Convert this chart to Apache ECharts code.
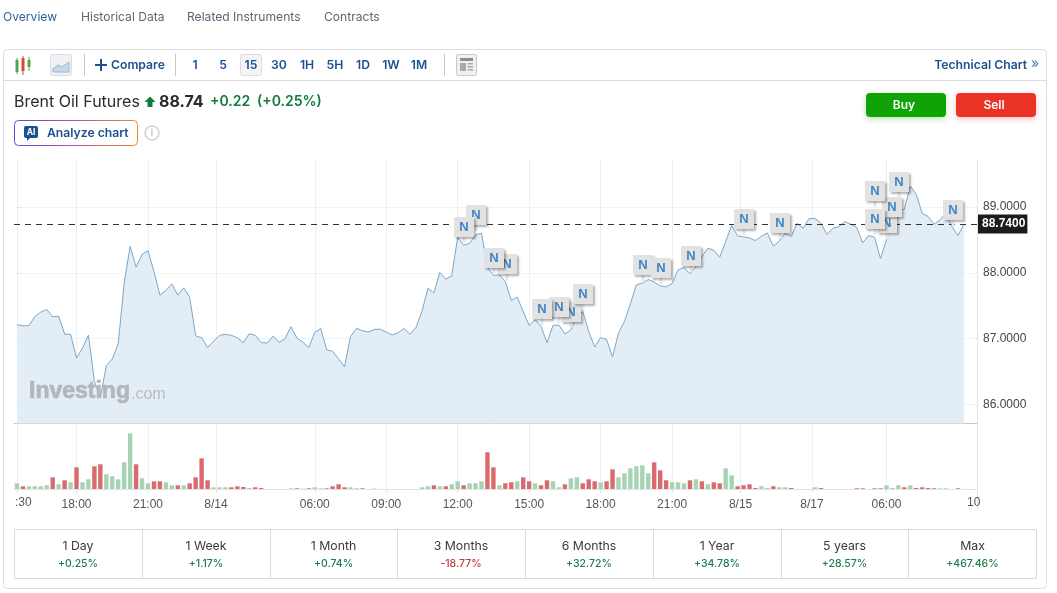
<!DOCTYPE html>
<html>
<head>
<meta charset="utf-8">
<style>html,body{margin:0;padding:0;background:#fff}#c{width:1057px;height:593px}</style>
<script src="https://cdn.jsdelivr.net/npm/echarts@6/dist/echarts.min.js"></script>
</head>
<body>
<div id="c"></div>
<script>
const prices = [87.212,87.197,87.197,87.338,87.404,87.444,87.333,87.343,87.071,87.066,86.707,86.859,87.056,86.354,86.101,86.591,86.692,86.924,87.843,88.404,88.086,88.278,88.338,88.020,87.662,87.732,87.833,87.662,87.773,87.631,87.045,87.015,86.869,86.960,87.051,87.066,87.051,87.015,86.939,87.076,87.051,86.944,86.934,87.040,86.944,87.000,87.182,87.010,86.949,86.864,87.096,87.157,86.833,86.808,86.697,86.571,87.035,87.157,87.121,87.101,87.141,87.146,87.101,87.056,87.091,87.157,87.066,87.172,87.414,87.768,87.692,88.005,87.904,87.955,88.540,88.419,88.449,88.576,88.601,88.086,87.960,87.970,87.869,87.581,87.631,87.414,87.202,87.288,87.187,86.939,87.202,87.207,87.071,87.131,87.338,87.414,87.111,86.874,87.015,86.990,86.722,87.086,87.263,87.530,87.818,87.843,87.899,87.859,87.803,87.788,87.838,88.045,88.081,87.985,88.096,88.247,88.374,88.343,88.237,88.475,88.722,88.561,88.545,88.530,88.490,88.556,88.606,88.404,88.480,88.601,88.551,88.753,88.677,88.823,88.828,88.753,88.581,88.677,88.702,88.778,88.737,88.692,88.455,88.566,88.540,88.217,88.500,88.854,88.955,88.965,89.318,89.192,88.904,88.854,88.737,88.803,88.914,88.702,88.566,88.737];
const volumes = [5.7,2.7,2.7,2.7,2.7,3.7,11.7,4.7,8.7,6.7,21.7,6.7,9.7,22.7,24.7,14.7,12.7,9.7,26.7,55.7,24.7,10.7,5.7,7.7,7.7,6.7,3.7,3.7,3.7,5.7,11.7,30.7,8.7,1.7,1.7,1.7,1.7,2.7,2,1,1.7,1,0,0,0,0,0.7,0.7,0.3,0.7,1.7,0.7,0.7,2.7,4.7,1.7,1.7,0.7,0.7,0,0.5,0,0,0,0,0,0,0,1.7,2.7,3.7,2.7,2.7,4.7,7.7,3.7,5.7,5.7,7.7,36.7,21.7,3.7,5.7,6.7,7.7,11.7,7.7,5.7,3.7,8.7,7.7,1.7,4.7,10.7,11.7,5.7,9.7,7.7,6.7,7.7,19.7,11.7,15.7,20.7,22.7,23.7,15.7,26.7,18.7,8.7,6.7,6.7,5.7,8.7,9.7,7.7,4.7,6.7,5.7,20.7,13.7,2.7,3.7,4.7,1,2.7,1,2.7,1.7,1.7,1,0,0,0,1.7,1,0,0,0,0,0,0.7,0.7,0,0.7,0.7,3.7,1,3.7,1.7,3.7,1,1.7,1,0.7,0.7,0.7,0,0.7,0];
const downBars = [1,6,8,10,13,14,20,23,24,27,29,30,31,32,36,37,38,40,41,47,49,52,53,54,55,58,70,72,75,79,80,82,83,85,86,88,89,92,95,96,97,99,100,107,108,109,113,115,117,118,121,122,123,124,127,130,135,141,142,144,145,149,151,152,153,154,158];
const xTickIndex = [0,10,22,33.4,50,62,74,86,98,110,121.5,133.5,146];
const xTickLabels = ["","18:00","21:00","8/14","06:00","09:00","12:00","15:00","18:00","21:00","8/15","8/17","06:00"];
const priceTicks = [86,87,88,89];
const lastPrice = 88.74;
const flagIndex = [77.1,75.1,82.2,80.1,93.0,95.0,91.0,88.1,105.1,108.1,113.2,122.1,128.1,146.1,147.0,144.1,148.1,144.1,157.2];
const flagPrice = [88.636,88.458,87.892,87.983,87.164,87.442,87.244,87.209,87.877,87.836,88.014,88.575,88.519,88.519,88.757,88.580,89.141,89.005,88.716];
const tabs = ["Overview","Historical Data","Related Instruments","Contracts"];
const intervals = ["1","5","15","30","1H","5H","1D","1W","1M"];
const rangeLabels = ["1 Day","1 Week","1 Month","3 Months","6 Months","1 Year","5 years","Max"];
const rangeChanges = ["+0.25%","+1.17%","+0.74%","-18.77%","+32.72%","+34.78%","+28.57%","+467.46%"];

const UI = "Inter, 'Noto Sans', sans-serif";
const AX = "'Liberation Sans', Arial, sans-serif";
const navy = "#1d5090", GREEN = "#0f7a3c";
const upCol = "#a6d3b4", downCol = "#d96b6e";
const g = [];
const T = (x, y, text, font, fill, align, extra) => g.push({type:'text', z:10, silent:true, style:Object.assign({x, y, text, font, fill, textAlign:align||'left', textVerticalAlign:'middle'}, extra||{})});
const R = (x, y, w, h, fill, stroke, r, extra) => g.push({type:'rect', z:9, silent:true, shape:{x,y,width:w,height:h,r:r||0}, style:Object.assign({fill:fill||'none', stroke:stroke||'none', lineWidth:1}, extra||{})});
const L = (x1, y1, x2, y2, stroke, w) => g.push({type:'line', z:9, silent:true, shape:{x1,y1,x2,y2}, style:{stroke, lineWidth:w||1}});

// tabs
const tabX = [3,81,187,324];
tabs.forEach((t,i)=>T(tabX[i],17,t,"400 12.1px "+UI,i===0?"#2f6299":"#5b6673"));
// panel
R(3.5,49.5,1043,539,'none','#dcdcdc',4,{});
L(4,80.5,1046,80.5,'#dcdcdc');
// candle icon
[[17,'#5aa54b',60,72,58,74],[23,'#d9473f',58,71,56,75],[29,'#5aa54b',60,67,57,71]].forEach(c=>{
  L(c[0],c[4],c[0],c[5],c[1]); R(c[0]-1.5,c[2],3,c[3]-c[2],c[1],null,0);
});
// area icon
R(50.5,54.5,21,21,'#eef2f6','#dcdcdc',2);
g.push({type:'polygon',z:10,silent:true,shape:{points:[[53,72],[53,69],[58,65],[62,67],[69,62],[69,72]]},style:{fill:'#c9d8e8',stroke:'#9db4cc',lineWidth:1}});
L(84.5,54,84.5,76,'#c8c8c8');
L(95,65,107,65,navy,2); L(101,59,101,71,navy,2);
T(111,65,"Compare","600 12.2px "+UI,navy);
L(175.5,54,175.5,76,'#c8c8c8');
R(240.5,54.5,21,21,'#f3f4f6','#dcdcdc',2);
const ivX = [195,223,251,279,307,335,363,391,419];
intervals.forEach((t,i)=>T(ivX[i],65,t,"600 12.2px "+UI,navy,'center'));
L(444.5,54,444.5,76,'#c8c8c8');
R(456.5,54.5,20,21,'#eef0f2','#c8c8c8',2);
R(460,58,13,3,'#8d8d8d'); R(460,63,6,8,'#a8a8a8'); R(467.5,63,5.5,1.5,'#a8a8a8'); R(467.5,66,5.5,1.5,'#a8a8a8'); R(467.5,69,5.5,1.5,'#a8a8a8');
T(1027,65,"Technical Chart","600 12.2px "+UI,navy,'right');
T(1031,64,"»","400 14px "+UI,"#4f7db0");
// title row
T(14,102,"Brent Oil Futures","400 16px "+UI,"#2b2b2b");
g.push({type:'polygon',z:10,silent:true,shape:{points:[[150,96.5],[155.5,102],[152.5,102],[152.5,107],[147.5,107],[147.5,102],[144.5,102]]},style:{fill:GREEN}});
T(159,102,"88.74","700 16px "+UI,"#2b2b2b");
T(210,102,"+0.22","600 14px "+UI,GREEN);
T(257,102,"(+0.25%)","600 14px "+UI,GREEN);
// analyze
R(14.5,120.5,123,25,'#fff',new echarts.graphic.LinearGradient(0,0,1,0,[{offset:0,color:'#5b4bd0'},{offset:.5,color:'#b0569a'},{offset:1,color:'#ee8a2a'}]),4);
R(24,126,14,12,navy,null,2);
g.push({type:'polygon',z:9,silent:true,shape:{points:[[27,137],[31,137],[27,141]]},style:{fill:navy}});
T(31,132,"AI","700 8.5px "+UI,"#fff",'center');
T(47,133,"Analyze chart","600 12.2px "+UI,navy);
g.push({type:'circle',z:9,silent:true,shape:{cx:152,cy:133,r:7},style:{fill:'#fff',stroke:'#c4c4c4',lineWidth:1.2}});
T(152,133,"i","400 10px "+UI,"#b0b0b0",'center');
// buy / sell
R(866,93,80,24,'#10a305',null,4,{shadowBlur:6,shadowOffsetY:2,shadowColor:'rgba(16,163,5,.3)'});
R(956,93,80,24,'#ea3325',null,4,{shadowBlur:6,shadowOffsetY:2,shadowColor:'rgba(234,51,37,.3)'});
T(904,105,"Buy","600 12px "+UI,"#fff",'center');
T(994,105,"Sell","600 12px "+UI,"#fff",'center');
// axis right rule
L(977.5,160,977.5,510,'#e2e2e2');
// clipped edge labels
T(15,503,":30","400 12px "+AX,"#555");
T(967,503,"10","400 12px "+AX,"#555");
R(977,495,6,16,'#fff',null,0);
L(977.5,495,977.5,510,'#e2e2e2');
// watermark
T(29,392,"Investing","700 23px "+AX,"#b4b7b9",'left',{stroke:'#b4b7b9',lineWidth:0.7});
T(131,395,".com","400 16px "+AX,"#babdbf");
// table
R(14.5,529.5,1022,49,'#fff','#d9d9d9',0);
const cols = [14,142,270,397,525,653,781,908,1037];
rangeLabels.forEach((t,i)=>{
  if(i>0) L(cols[i]+.5,530,cols[i]+.5,579,'#d9d9d9');
  const cx=(cols[i]+cols[i+1])/2;
  T(cx,546,t,"400 12.3px "+UI,"#3a3a3a",'center');
  T(cx,564,rangeChanges[i],"500 10.5px "+UI,rangeChanges[i][0]==='-'?"#c93a3a":"#1a7d4c",'center');
});

const xMin=-0.5, xMax=161.2;
const labelMap={}; xTickIndex.forEach((v,i)=>labelMap[v]=xTickLabels[i]);
const grid0={left:14,right:80,top:160,height:263.5};
const grid1={left:14,right:80,top:423.5,height:65.5};
const chart=echarts.init(document.getElementById('c'),null,{renderer:'canvas'});
chart.setOption({
  animation:false,
  backgroundColor:'#fff',
  graphic:{elements:g},
  grid:[grid0,grid1],
  xAxis:[
    {type:'value',gridIndex:0,min:xMin,max:xMax,axisLine:{onZero:false,lineStyle:{color:'#bcc8d2'}},axisLabel:{show:false},axisTick:{show:false,customValues:xTickIndex},splitLine:{show:true,lineStyle:{color:'#edf0f3'}}},
    {type:'value',gridIndex:1,min:xMin,max:xMax,axisLine:{onZero:false,lineStyle:{color:'#e3e3e3'}},
     axisTick:{show:true,length:4,customValues:xTickIndex,lineStyle:{color:'#e3e3e3'}},
     axisLabel:{customValues:xTickIndex,margin:10,showMinLabel:true,showMaxLabel:true,hideOverlap:false,fontFamily:'Liberation Sans',fontSize:12,color:'#555',formatter:v=>labelMap[v]||''},
     splitLine:{show:true,lineStyle:{color:'#edf0f3'}}}
  ],
  yAxis:[
    {type:'value',gridIndex:0,position:'right',min:85.713,max:89.713,axisLine:{show:false},
     axisTick:{show:true,length:4,customValues:priceTicks,lineStyle:{color:'#e3e3e3'}},
     axisLabel:{customValues:priceTicks,margin:6,padding:[4,0,0,0],fontFamily:'Liberation Sans',fontSize:12,color:'#444',formatter:v=>v.toFixed(4)},
     splitLine:{show:true,lineStyle:{color:'#f1f3f5'}}},
    {type:'value',gridIndex:1,min:0,max:65.5,show:false,splitLine:{show:false}}
  ],
  series:[
    {type:'line',name:'Brent',xAxisIndex:0,yAxisIndex:0,z:2,symbol:'none',smooth:false,
     data:prices.map((p,i)=>[i,p]),
     lineStyle:{color:'#7ba7cb',width:1},areaStyle:{color:'#e3edf5',opacity:1,origin:'start'},
     markLine:{silent:true,symbol:'none',z:3,animation:false,
       lineStyle:{color:'#333',type:[6,5],width:1},
       label:{show:true,position:'end',distance:1,formatter:lastPrice.toFixed(2)+'00',backgroundColor:'#1c1c1c',color:'#fff',fontFamily:'Liberation Sans',fontSize:12,fontWeight:'bold',padding:[4,2,3,4]},
       data:[{yAxis:lastPrice}]}},
    {type:'bar',name:'Volume',xAxisIndex:1,yAxisIndex:1,barWidth:4.4,
     data:volumes.map((v,i)=>({value:[i,v],itemStyle:{color:downBars.includes(i)?downCol:upCol}}))},
    {type:'custom',name:'News',xAxisIndex:0,yAxisIndex:0,z:20,clip:false,
     data:flagIndex.map((x,i)=>[x,flagPrice[i]]),
     renderItem:(p,api)=>{
       const c=api.coord([api.value(0),api.value(1)]);
       const x=Math.round(c[0]), y=Math.round(c[1]);
       return {type:'group',children:[
         {type:'rect',shape:{x:x-1.5,y:y-7,width:3,height:7},style:{fill:'#e8e8e8'}},
         {type:'rect',shape:{x:x-10,y:y-26,width:20,height:20},style:{fill:'#e2e2e2',shadowBlur:2,shadowOffsetX:2,shadowOffsetY:2,shadowColor:'rgba(0,0,0,.3)'}},
         {type:'text',style:{x:x,y:y-16,text:'N',font:"700 13px 'Liberation Sans'",fill:'#3f86c8',textAlign:'center',textVerticalAlign:'middle'}}
       ]};
     }}
  ]
});
</script>
</body>
</html>
